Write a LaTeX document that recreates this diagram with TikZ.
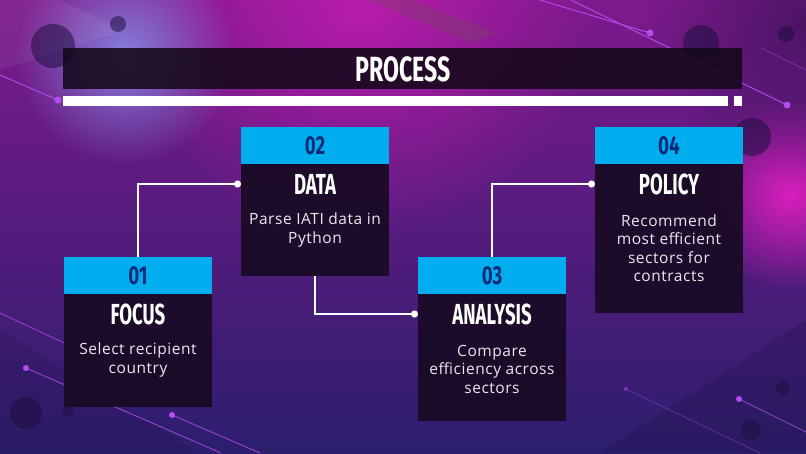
\documentclass[tikz,border=0pt]{standalone}
\usepackage{fontspec}
\usepackage{graphicx}
\setmainfont{Open Sans}
\newfontfamily\headfont{Fira Sans}
\newfontfamily\descfont{Open Sans}[LetterSpace=3.5]
\usetikzlibrary{arrows.meta,fadings}
\definecolor{hdr}{HTML}{00AEEF}
\definecolor{numc}{HTML}{0B2A78}
\definecolor{bodyc}{HTML}{1A0B26}
\definecolor{txtc}{HTML}{ECE6F2}
\definecolor{bgtop}{HTML}{7E1A8C}
\definecolor{bgbot}{HTML}{2C1E6E}
\definecolor{glowmag}{HTML}{E81EC4}
\definecolor{glowblue}{HTML}{8A9AF0}
\definecolor{darkdot}{HTML}{1E0F40}
\definecolor{litedot}{HTML}{B44CF0}
\definecolor{barc}{HTML}{14081A}
\tikzfading[name=glowfade, inner color=transparent!0, outer color=transparent!100]
\newcommand{\cond}[2]{\scalebox{#1}[1]{#2}}
\tikzset{
  hdrbox/.style={fill=hdr, minimum width=148pt, minimum height=37pt, anchor=north west, inner sep=0pt, outer sep=0pt, text=numc, font=\headfont\bfseries\fontsize{26}{26}\selectfont},
  bodybox/.style={fill=bodyc, fill opacity=0.95, minimum width=148pt, anchor=north west, inner sep=0pt, outer sep=0pt},
  ttltext/.style={text=white, font=\headfont\bfseries\fontsize{29}{29}\selectfont, inner sep=0pt},
  desc/.style={text=txtc, align=center, font=\descfont\fontsize{15.5}{18.5}\selectfont, inner sep=0pt},
  conn/.style={draw=white, line width=1.6pt, -{Circle[length=7pt]}},
  deco/.style={draw=litedot, line width=0.9pt},
  ldot/.style={fill=litedot},
  ddot/.style={fill=darkdot, fill opacity=0.55}
}
\begin{document}
\begin{tikzpicture}[x=1pt,y=-1pt]
\useasboundingbox (0,0) rectangle (806,453);
% background
\shade[top color=bgtop, bottom color=bgbot] (0,0) rectangle (806,453);
\begin{scope}
\clip (0,0) rectangle (806,453);
\fill[color=glowmag, path fading=glowfade, fill opacity=0.55] (360,10) circle (230);
\fill[color=glowblue, path fading=glowfade, fill opacity=0.8] (125,55) circle (110);
\fill[color=glowmag, path fading=glowfade, fill opacity=0.9] (790,195) circle (95);
\fill[color=darkdot, path fading=glowfade, fill opacity=0.5] (806,20) circle (160);
\fill[color=darkdot, fill opacity=0.25] (600,453) -- (806,320) -- (806,453) -- cycle;
\fill[color=darkdot, fill opacity=0.18] (0,330) -- (200,453) -- (0,453) -- cycle;
\fill[color=white, fill opacity=0.06] (0,0) -- (60,0) -- (125,30) -- (0,70) -- cycle;
\fill[color=black!60!magenta, fill opacity=0.35] (368,0) -- (412,0) -- (496,33) -- (472,43) -- cycle;
% decorative lines
\draw[deco] (0,75) -- (58,100);
\draw[deco] (540,0) -- (650,33);
\draw[deco] (571,0) -- (787,105);
\draw[deco, draw opacity=0.4] (761,48) -- (806,70);
\draw[deco, draw opacity=0.7] (0,313) -- (150,383);
\draw[deco, draw opacity=0.8] (26,368) -- (221,453);
\draw[deco, draw opacity=0.8] (172,415) -- (260,453);
\draw[deco, draw opacity=0.7] (739,399) -- (806,432);
\draw[deco, draw opacity=0.35] (626,389) -- (760,453);
% dots
\fill[ldot] (58,100) circle (3.5);
\fill[ldot] (650,33) circle (3.5);
\fill[ldot] (787,105) circle (3.5);
\fill[ldot] (26,368) circle (3);
\fill[ldot] (172,415) circle (3);
\fill[ldot] (739,399) circle (3);
\fill[ldot, fill opacity=0.5] (626,389) circle (2);
\fill[ddot] (53,46) circle (22);
\fill[ddot] (118,24) circle (8);
\fill[ddot] (701,43) circle (18);
\fill[ddot] (786,34) circle (8);
\fill[ddot] (752,137) circle (19);
\fill[ddot] (26,413) circle (16);
\fill[ddot] (68,410) circle (6);
\fill[ddot] (783,388) circle (7);
\fill[ddot] (751,430) circle (10);
\end{scope}
% title
\node (bar) [fill=barc, fill opacity=0.88, minimum width=679pt, minimum height=41pt, anchor=north west, inner sep=0pt] at (63,48) {};
\node (ttl) [text=white, font=\headfont\bfseries\fontsize{35}{35}\selectfont, inner sep=0pt] at (403,69) {\cond{0.66}{PROCESS}};
\node (wbar) [fill=white, minimum width=665pt, minimum height=10pt, anchor=north west, inner sep=0pt] at (63,96) {};
\node (wsq) [fill=white, minimum width=8pt, minimum height=10pt, anchor=north west, inner sep=0pt] at (734,96) {};
% boxes
\node[hdrbox] (h1) at (64,257) {\cond{0.72}{01}};
\node[bodybox, minimum height=113pt] (b1) at (64,294) {};
\node[hdrbox] (h2) at (241,127) {\cond{0.72}{02}};
\node[bodybox, minimum height=112pt] (b2) at (241,164) {};
\node[hdrbox] (h3) at (418,257) {\cond{0.72}{03}};
\node[bodybox, minimum height=127pt] (b3) at (418,294) {};
\node[hdrbox] (h4) at (595,127) {\cond{0.72}{04}};
\node[bodybox, minimum height=149pt] (b4) at (595,164) {};
% titles
\node[ttltext] (t1) at (138,314) {\cond{0.64}{FOCUS}};
\node[ttltext] (t2) at (315,184) {\cond{0.64}{DATA}};
\node[ttltext] (t3) at (492,314) {\cond{0.64}{ANALYSIS}};
\node[ttltext] (t4) at (669,184) {\cond{0.64}{POLICY}};
% descriptions
\node[desc] (d1) at (138,360) {Select recipient\\country};
\node[desc] (d2) at (315,230) {Parse IATI data in\\Python};
\node[desc] (d3) at (492,369) {Compare\\efficiency across\\sectors};
\node[desc] (d4) at (669,248) {Recommend\\most efficient\\sectors for\\contracts};
% connectors
\draw[conn] (h1.north) |- (b2.west |- t2.center);
\draw[conn] (b2.south) |- (b3.west |- t3.center);
\draw[conn] (h3.north) |- (b4.west |- t4.center);
\end{tikzpicture}
\end{document}
